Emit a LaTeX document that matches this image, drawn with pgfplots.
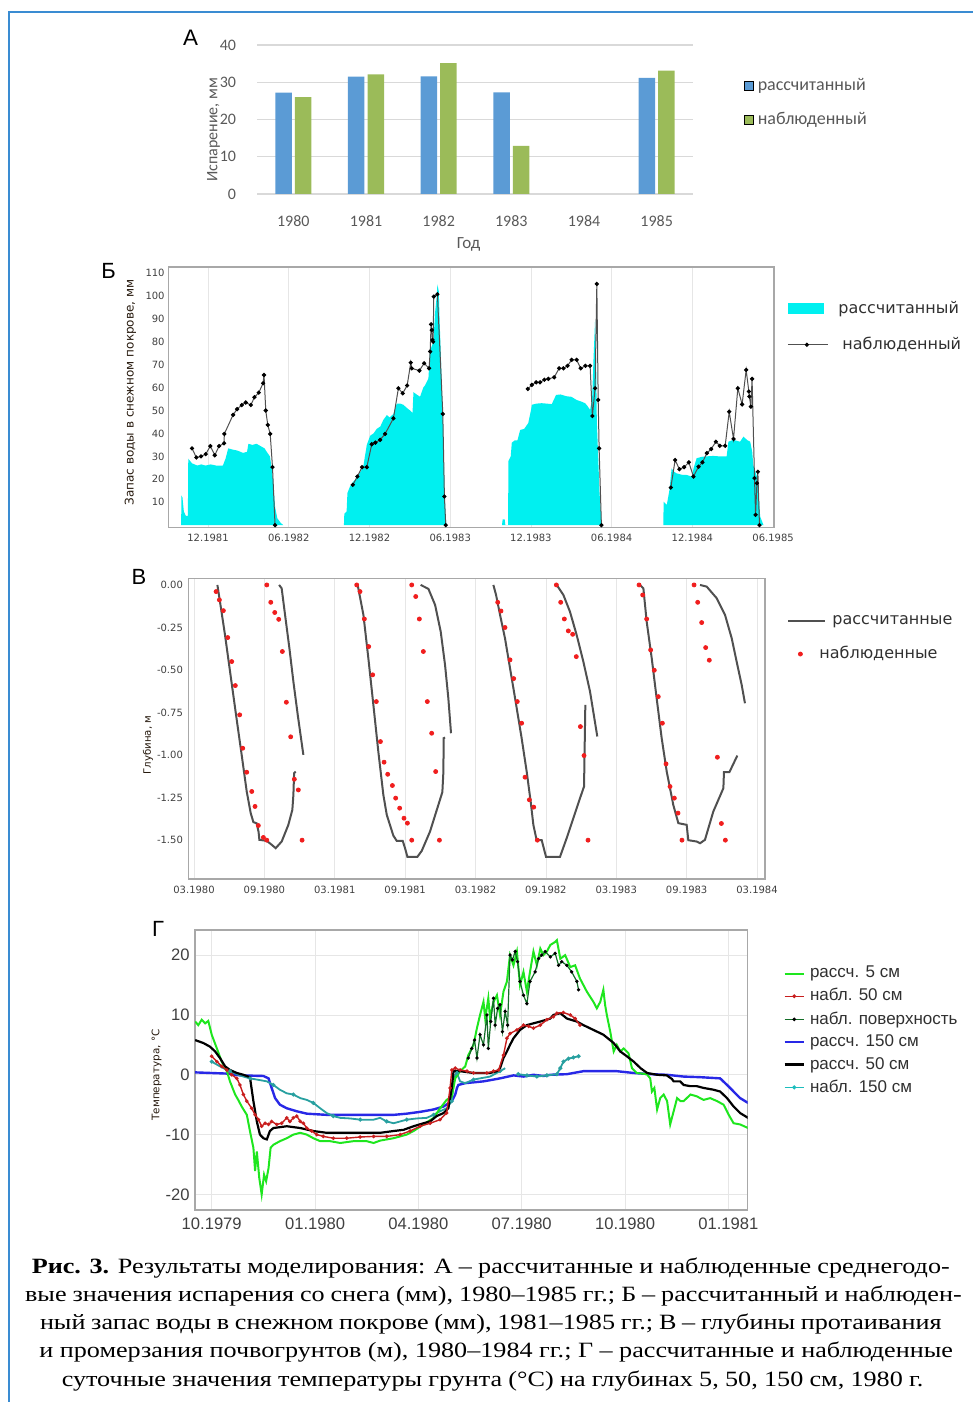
\documentclass[border=0pt]{standalone}
\usepackage{fontspec}
\setmainfont{Liberation Serif}
\newfontfamily\calfont{Carlito}
\newfontfamily\dvfont{DejaVu Sans}
\newfontfamily\arfont{Liberation Sans}
\newfontfamily\capfont[FakeStretch=1.2]{Liberation Serif}
\usepackage{pgfplots}
\pgfplotsset{compat=1.18}
\definecolor{framec}{RGB}{58,140,210}
\definecolor{ablue}{HTML}{5B9BD5}
\definecolor{agreen}{HTML}{9BBB59}
\definecolor{agrid}{HTML}{D9D9D9}
\definecolor{atext}{HTML}{595959}
\definecolor{bcyan}{RGB}{0,240,240}
\definecolor{bgrid}{HTML}{E6E6E6}
\definecolor{bframe}{HTML}{A8A8A8}
\definecolor{btick}{HTML}{404040}
\definecolor{legtext}{HTML}{303030}
\definecolor{vline}{HTML}{505050}
\definecolor{vred}{RGB}{240,30,30}
\definecolor{ggreen}{RGB}{30,230,30}
\definecolor{gred}{RGB}{200,30,30}
\definecolor{gdk}{RGB}{20,110,40}
\definecolor{gblue}{RGB}{40,40,230}
\definecolor{gteal}{RGB}{40,160,160}
\pgfplotsset{
 sqlegA/.style={legend image code/.code={\draw[##1] (0pt,-2.25pt) rectangle (4.5pt,2.25pt);}},
 cyanleg/.style={legend image code/.code={\fill[bcyan] (0pt,-2.75pt) rectangle (18pt,2.75pt);}},
 obsleg/.style={legend image code/.code={\draw[mark repeat=2,mark phase=2,##1] plot coordinates {(0pt,0pt) (9.5pt,0pt) (20pt,0pt)};}},
 vlineleg/.style={legend image code/.code={\draw[##1] (0pt,0pt) -- (18.3pt,0pt);}},
 vdotleg/.style={legend image code/.code={\draw[##1] plot coordinates {(6.15pt,0pt)};}},
 gleg/.style={legend image code/.code={\draw[mark repeat=2,mark phase=2,##1] plot coordinates {(0pt,0pt) (4.75pt,0pt) (9.5pt,0pt)};}},
}
\begin{document}
\begin{tikzpicture}
\useasboundingbox (0,0) rectangle (486.5pt,701pt);
\draw[framec, line width=1pt] (4.25pt,0pt) -- (4.25pt,695pt) -- (486.5pt,695pt);

% ---------------- Panel A ----------------
\begin{axis}[
 at={(128.5pt,604pt)}, anchor=south west, scale only axis, width=218pt, height=74.5pt,
 xmin=-0.5, xmax=5.5, ymin=0, ymax=40,
 xtick={0,1,2,3,4,5}, xticklabels={1980,1981,1982,1983,1984,1985},
 ytick={0,10,20,30,40}, yticklabels={0,10,20,30,40},
 axis line style={draw=none}, major tick length=0pt,
 ymajorgrids, grid style={line width=0.6pt, color=agrid},
 ticklabel style={font=\calfont\fontsize{8}{9}\selectfont, text=atext},
 xticklabel style={anchor=base, yshift=-16.25pt},
 yticklabel style={anchor=east, inner sep=0pt, xshift=-10.25pt},
 legend cell align=left,
 legend style={at={(1.116,0.78)}, anchor=north west, draw=none, fill=none, inner sep=0pt,
   row sep=9.4pt, column sep=2pt, font=\calfont\fontsize{9}{10}\selectfont, text=atext,
   cells={anchor=west}, nodes={inner sep=0pt}},
]
\addplot[ybar, bar width=8.25pt, bar shift=-4.9pt, fill=ablue, draw=none, sqlegA]
  coordinates {(0,27.2) (1,31.5) (2,31.6) (3,27.3) (5,31.2)};
\addlegendentry{рассчитанный}
\addplot[ybar, bar width=8.25pt, bar shift=4.9pt, fill=agreen, draw=none, sqlegA]
  coordinates {(0,26) (1,32.1) (2,35.1) (3,12.9) (5,33.1)};
\addlegendentry{наблюденный}
\end{axis}
\node[font=\arfont\fontsize{11.2}{12}\selectfont, inner sep=0pt] at (95.3pt,682pt) {А};
\node[font=\calfont\fontsize{8.5}{9}\selectfont, text=atext, inner sep=0pt] at (234.25pt,578.65pt) {Год};
\node[font=\calfont\fontsize{8}{9}\selectfont, text=atext, inner sep=0pt, rotate=90] at (106.8pt,636pt) {Испарение, мм};

% ---------------- Panel B ----------------
\begin{axis}[
 at={(84.25pt,437.15pt)}, anchor=south west, scale only axis, width=302.75pt, height=130.35pt,
 xmin=8.06, xmax=53.07, ymin=-1.1, ymax=112.6,
 xtick={11,17,23,29,35,41,47,53},
 xticklabels={12.1981,06.1982,12.1982,06.1983,12.1983,06.1984,12.1984,06.1985},
 ytick={10,20,30,40,50,60,70,80,90,100,110},
 yticklabels={10,20,30,40,50,60,70,80,90,100,110},
 xmajorgrids, grid style={color=bgrid, line width=0.4pt},
 axis line style={color=bframe, line width=0.6pt}, major tick length=0pt,
 ticklabel style={font=\dvfont\fontsize{5}{6}\selectfont, text=btick},
 xticklabel style={anchor=base, yshift=-7.1pt},
 yticklabel style={anchor=east, inner sep=0pt, xshift=-1.75pt},
 legend cell align=left,
 legend style={at={(1.0215,0.8715)}, anchor=north west, draw=none, fill=none, inner sep=0pt,
   row sep=10.5pt, column sep=5pt, font=\dvfont\fontsize{8}{9.6}\selectfont, text=legtext,
   cells={anchor=west}, nodes={inner sep=0pt}},
]
\addplot[fill=bcyan, draw=none, cyanleg]
 coordinates {(9.0,0) (9.02,13) (9.1,12) (9.2,6) (9.35,4) (9.5,4) (9.53,29) (9.8,27) (10.2,26) (10.5,26.5)
 (10.8,26) (11.2,26.5) (11.6,26) (12.1,26) (12.3,29) (12.5,33.5) (12.8,33) (13.2,32.5) (13.6,31.5)
 (13.9,32) (14.0,35.5) (14.3,35) (14.6,35.5) (14.9,34.5) (15.2,33.5) (15.36,32) (15.6,30) (15.73,25)
 (15.85,18) (15.98,8) (16.15,3) (16.4,1) (16.6,0)} \closedcycle;
\addlegendentry{рассчитанный}
\addplot[fill=bcyan, draw=none, forget plot]
 coordinates {(21.1,0) (21.13,5) (21.3,6) (21.36,14) (21.56,17) (21.8,19) (22.1,21) (22.4,24) (22.55,26)
 (22.8,35) (23.05,39) (23.3,40) (23.54,42) (23.8,43) (24.04,46) (24.29,48) (24.5,47) (24.78,48.5)
 (25.03,53) (25.3,53) (25.52,52.5) (25.8,51) (26.02,50) (26.2,49) (26.27,58) (26.5,57) (26.76,56)
 (27.0,60) (27.13,61) (27.38,64) (27.5,76) (27.75,80) (27.88,93) (28.0,100) (28.05,105) (28.15,102)
 (28.22,88) (28.3,75) (28.4,55) (28.5,35) (28.58,15) (28.65,5) (28.72,0)} \closedcycle;
\addplot[fill=bcyan, draw=none, forget plot]
 coordinates {(32.85,0) (32.9,2.5) (33.05,2.5) (33.1,0) (33.3,0) (33.33,28) (33.5,30) (33.58,36) (33.8,37)
 (34.0,37) (34.2,41.5) (34.5,42) (34.8,44.5) (35.0,50) (35.07,52.5) (35.4,53) (35.8,53.2) (36.2,53)
 (36.55,52.8) (36.87,56.8) (37.2,57) (37.66,56.2) (38.0,56) (38.4,54.6) (38.7,54) (39.03,53.2) (39.2,52)
 (39.4,50.3) (39.55,55) (39.65,72) (39.77,89.5) (39.85,70) (39.9,45) (40.0,30) (40.1,14) (40.27,0)} \closedcycle;
\addplot[fill=bcyan, draw=none, forget plot]
 coordinates {(44.85,0) (44.86,10.3) (45.1,8.8) (45.3,15.4) (45.46,24.8) (45.6,23.5) (45.83,22.6) (46.2,22)
 (46.57,21.9) (46.95,21.2) (47.1,25) (47.32,29.2) (47.7,29.8) (48.06,30) (48.56,30.2) (49.0,30) (49.55,30)
 (49.68,36.4) (50.05,37.2) (50.55,36.4) (50.8,38.6) (51.1,37) (51.3,36.4) (51.45,32) (51.53,26.2)
 (51.8,21.2) (51.95,12) (52.04,3.8) (52.29,0)} \closedcycle;
\addplot[color=vline, line width=0.5pt, mark=*, mark size=0.8pt, mark options={fill=black, draw=black}, obsleg]
 coordinates {(9.81,33.5) (10.13,29.5) (10.48,30) (10.83,31) (11.17,34.5) (11.5,30.5) (11.82,34.5)
 (12.19,35.7) (12.21,39.8) (12.86,48.1) (13.16,50.6) (13.51,52.4) (13.8,53.5) (14.18,52.4) (14.45,55.8)
 (14.77,57.8) (15.09,61.9) (15.16,65.5) (15.29,50) (15.44,43.7) (15.62,39.8) (15.79,25.3) (15.98,0)};
\addlegendentry{\hspace*{2pt}наблюденный}
\addplot[color=vline, line width=0.5pt, mark=*, mark size=0.8pt, mark options={fill=black, draw=black}, forget plot]
 coordinates {(21.76,17.6) (22.1,21.2) (22.45,25.3) (22.8,25.3) (23.17,35.3) (23.44,36) (23.79,37.2)
 (24.16,39.8) (24.78,46.6) (25.15,59.7) (25.47,57.5) (25.8,60.9) (26.07,70.9) (26.14,68.4) (26.71,67.4)
 (27.06,70.6) (27.43,68.4) (27.51,75.7) (27.58,87.6) (27.63,85.1) (27.68,80.8) (27.73,80) (27.78,99.7)
 (28.05,100.7) (28.45,48.5) (28.57,12.5) (28.67,0)};
\addplot[color=vline, line width=0.5pt, mark=*, mark size=0.8pt, mark options={fill=black, draw=black}, forget plot]
 coordinates {(34.77,59.4) (35.07,61.2) (35.39,62.3) (35.68,62.3) (36.0,63.4) (36.3,63.8) (36.73,64.5)
 (37.1,68.4) (37.42,68.4) (37.72,69.5) (38.03,72.1) (38.4,72.1) (38.7,68.4) (39.05,69.5) (39.4,69.5)
 (39.57,47.6) (39.77,59.7) (39.9,105.2) (40.0,54.6) (40.07,33.5) (40.24,0)};
\addplot[color=vline, line width=0.5pt, mark=*, mark size=0.8pt, mark options={fill=black, draw=black}, forget plot]
 coordinates {(45.4,16.4) (45.72,28.4) (46.04,24.4) (46.39,25.3) (46.74,27.4) (47.08,21.2) (47.46,25.5)
 (47.75,27.4) (48.08,31.4) (48.4,33.2) (48.75,36.4) (49.04,34.6) (49.44,34.6) (49.74,49.5) (50.06,37.6)
 (50.38,59.7) (50.7,52.7) (51.0,67.7) (51.2,58.3) (51.24,56.1) (51.35,51.7) (51.44,63.8) (51.62,20.5)
 (51.7,4.5) (51.8,18.3) (51.87,23.3) (51.99,0)};
\end{axis}
\node[font=\arfont\fontsize{11}{12}\selectfont, inner sep=0pt] at (54.25pt,565.75pt) {Б};
\node[font=\dvfont\fontsize{6}{7}\selectfont, text=black!80!brown, inner sep=0pt, rotate=90] at (65.25pt,504.75pt) {Запас воды в снежном покрове, мм};

% ---------------- Panel V ----------------
\begin{axis}[
 at={(94.15pt,261.5pt)}, anchor=south west, scale only axis, width=288.35pt, height=150.35pt,
 xmin=1.51, xmax=50.68, ymin=-1.727, ymax=0.039,
 xtick={2,8,14,20,26,32,38,44,50},
 xticklabels={03.1980,09.1980,03.1981,09.1981,03.1982,09.1982,03.1983,09.1983,03.1984},
 ytick={-1.5,-1.25,-1,-0.75,-0.5,-0.25,0},
 yticklabels={-1.50,-1.25,-1.00,-0.75,-0.50,-0.25,0.00},
 xmajorgrids, grid style={color=bgrid, line width=0.4pt},
 axis line style={color=bframe, line width=0.6pt}, major tick length=0pt,
 ticklabel style={font=\dvfont\fontsize{5}{6}\selectfont, text=btick},
 xticklabel style={anchor=base, yshift=-7.3pt},
 yticklabel style={anchor=east, inner sep=0pt, xshift=-2.5pt},
 legend cell align=left,
 legend style={at={(1.0376,0.879)}, anchor=north west, draw=none, fill=none, inner sep=0pt,
   row sep=9.65pt, column sep=3.35pt, font=\dvfont\fontsize{8}{9.6}\selectfont, text=legtext,
   cells={anchor=west}, nodes={inner sep=0pt}},
 cline/.style={color=vline, line width=1pt, forget plot},
 obs/.style={only marks, mark=*, mark size=1pt, color=vred, forget plot},
]
\addlegendimage{color=vline, line width=1pt, vlineleg}
\addlegendentry{рассчитанные}
\addlegendimage{only marks, mark=*, mark size=1pt, color=vred, vdotleg}
\addlegendentry{\hspace*{-6.5pt}наблюденные}
\addplot[cline] coordinates {(3.99,0) (4.21,-0.098) (4.64,-0.294) (5.07,-0.509) (5.58,-0.763) (6.06,-0.998)
 (6.49,-1.213) (6.83,-1.34) (7.06,-1.393) (7.34,-1.40) (7.5,-1.45) (7.57,-1.497) (8.2,-1.503) (8.62,-1.526)
 (8.96,-1.546) (9.47,-1.507) (10.04,-1.409) (10.38,-1.321) (10.47,-1.233) (10.53,-1.106) (10.67,-1.096)};
\addplot[cline] coordinates {(9.25,0) (9.47,-0.02) (9.76,-0.176) (10.13,-0.372) (10.47,-0.568) (10.84,-0.763) (11.32,-0.998)};
\addplot[cline] coordinates {(15.95,0) (16.44,-0.176) (16.86,-0.43) (17.29,-0.705) (17.71,-0.978) (18.14,-1.233)
 (18.43,-1.35) (18.99,-1.472) (19.28,-1.503) (19.79,-1.503) (19.99,-1.546) (20.19,-1.597) (21.04,-1.597)
 (21.41,-1.562) (22.12,-1.448) (23.17,-1.217) (23.26,-1.096) (23.28,-0.9) (23.4,-0.896)};
\addplot[cline] coordinates {(21.32,0) (21.98,-0.023) (22.55,-0.117) (23.03,-0.274) (23.4,-0.47) (23.68,-0.665) (23.91,-0.871)};
\addplot[cline] coordinates {(27.52,0) (27.75,-0.059) (28.09,-0.176) (28.51,-0.313) (28.94,-0.489) (29.37,-0.665)
 (29.93,-0.9) (30.36,-1.096) (30.7,-1.272) (30.93,-1.409) (31.21,-1.499) (31.64,-1.499) (32.01,-1.597)
 (33.2,-1.597) (33.77,-1.487) (34.34,-1.37) (34.91,-1.252) (35.25,-1.184) (35.36,-0.705)};
\addplot[cline] coordinates {(32.92,0) (33.49,-0.059) (34.05,-0.157) (34.62,-0.294) (35.19,-0.45) (35.76,-0.626) (36.38,-0.89)};
\addplot[cline] coordinates {(40.02,0) (40.31,-0.02) (40.59,-0.215) (41.02,-0.43) (41.44,-0.665) (41.87,-0.9)
 (42.3,-1.096) (42.86,-1.292) (43.29,-1.399) (44.0,-1.409) (44.14,-1.499) (44.85,-1.507) (45.14,-1.517)
 (45.56,-1.497) (46.27,-1.331) (47.13,-1.194) (47.18,-1.1) (47.64,-1.1) (48.32,-1.002)};
\addplot[cline] coordinates {(45.14,0) (45.71,-0.01) (46.56,-0.078) (47.27,-0.176) (47.84,-0.313) (48.26,-0.45) (48.69,-0.587) (48.97,-0.695)};
\addplot[obs] coordinates {(3.88,-0.039) (4.16,-0.088) (4.5,-0.151) (4.87,-0.309) (5.21,-0.45) (5.52,-0.591)
 (5.89,-0.763) (6.15,-0.959) (6.49,-1.1) (6.92,-1.213) (7.2,-1.301) (7.48,-1.413) (7.91,-1.483) (8.2,-1.499)
 (8.2,0) (8.54,-0.102) (8.88,-0.162) (9.22,-0.202) (9.53,-0.391) (9.87,-0.689) (10.24,-0.892) (10.55,-1.141)
 (10.89,-1.204) (11.21,-1.499)};
\addplot[obs] coordinates {(15.87,0) (16.15,-0.039) (16.52,-0.2) (16.89,-0.362) (17.23,-0.528) (17.54,-0.685)
 (17.89,-0.92) (18.2,-1.041) (18.51,-1.112) (18.91,-1.178) (19.19,-1.252) (19.53,-1.311) (19.9,-1.37)
 (20.19,-1.399) (20.56,-1.499) (20.56,0) (20.9,-0.068) (21.21,-0.2) (21.55,-0.391) (21.89,-0.685)
 (22.26,-0.871) (22.6,-1.096) (22.92,-1.499)};
\addplot[obs] coordinates {(27.89,-0.102) (28.17,-0.153) (28.51,-0.25) (28.94,-0.44) (29.25,-0.55) (29.56,-0.685)
 (29.93,-0.812) (30.22,-1.129) (30.59,-1.262) (30.96,-1.305) (31.27,-1.499) (32.89,0) (33.26,-0.102)
 (33.57,-0.2) (33.91,-0.27) (34.28,-0.29) (34.59,-0.421) (34.94,-0.832) (35.25,-1.002) (35.59,-1.499)};
\addplot[obs] coordinates {(39.94,0) (40.25,-0.059) (40.59,-0.2) (40.93,-0.382) (41.24,-0.501) (41.58,-0.656)
 (41.93,-0.812) (42.24,-1.051) (42.58,-1.184) (42.95,-1.252) (43.26,-1.34) (43.6,-1.499) (44.63,0)
 (44.94,-0.102) (45.28,-0.221) (45.62,-0.368) (45.93,-0.442) (46.62,-1.012) (46.96,-1.401) (47.3,-1.499)};
\end{axis}
\node[font=\arfont\fontsize{11}{12}\selectfont, inner sep=0pt] at (69.5pt,412.75pt) {В};
\node[font=\dvfont\fontsize{5.1}{6}\selectfont, text=black!80!brown, inner sep=0pt, rotate=90] at (74pt,328.5pt) {Глубина, м};

% ---------------- Panel G ----------------
\begin{axis}[
 at={(97.5pt,96pt)}, anchor=south west, scale only axis, width=276.35pt, height=140pt,
 xmin=-0.485, xmax=15.56, ymin=-22.6, ymax=24.2,
 xtick={0,3,6,9,12,15},
 xticklabels={10.1979,01.1980,04.1980,07.1980,10.1980,01.1981},
 ytick={-20,-10,0,10,20}, yticklabels={-20,-10,0,10,20},
 grid=major, grid style={color=bgrid, line width=0.4pt},
 axis line style={color=bframe, line width=0.6pt}, major tick length=0pt,
 ticklabel style={font=\arfont\fontsize{8.3}{9}\selectfont, text=btick},
 xticklabel style={anchor=base, yshift=-9.6pt},
 yticklabel style={anchor=east, inner sep=0pt, xshift=-2.5pt},
 legend cell align=left,
 legend style={at={(1.0639,0.872)}, anchor=north west, draw=none, fill=none, inner sep=0pt,
   row sep=3.8pt, column sep=2.5pt, font=\arfont\fontsize{8.5}{9.6}\selectfont, text=legtext,
   cells={anchor=west}, nodes={inner sep=0pt}},
 gleg,
]
\addlegendimage{color=ggreen, line width=1pt}
\addlegendentry{рассч. 5 см}
\addlegendimage{color=gred, line width=0.7pt, mark=*, mark size=0.6pt}
\addlegendentry{набл. 50 см}
\addlegendimage{color=gdk, line width=0.6pt, mark=*, mark size=0.6pt, mark options={color=black}}
\addlegendentry{набл. поверхность}
\addlegendimage{color=gblue, line width=1.3pt}
\addlegendentry{рассч. 150 см}
\addlegendimage{color=black, line width=1.1pt}
\addlegendentry{рассч. 50 см}
\addlegendimage{color=gteal!70!cyan, line width=0.7pt, mark=*, mark size=0.6pt}
\addlegendentry{набл. 150 см}
\addplot[color=gblue, line width=1.2pt, forget plot] coordinates {(-0.48,0.4) (0.44,0.2) (0.82,-0.1) (1.5,-0.2)
 (1.65,-0.6) (1.74,-2.2) (1.84,-3.9) (1.98,-5) (2.18,-5.6) (2.47,-6.1) (2.76,-6.5) (3.34,-6.7) (4.7,-6.7)
 (5.28,-6.7) (5.66,-6.5) (6.05,-6.2) (6.44,-5.8) (6.73,-5.3) (6.97,-4.4) (7.07,-3.3) (7.12,-2.2) (7.16,-1.7)
 (7.36,-1.4) (7.89,-1.1) (8.18,-0.8) (8.37,-0.6) (8.76,-0.1) (9.05,-0.3) (9.34,0) (9.63,-0.2) (9.83,0)
 (10.31,0.1) (10.79,0.6) (11.76,0.6) (12.25,0.3) (12.73,0.1) (13.21,0) (13.7,-0.3) (14.18,-0.4) (14.76,-0.6)
 (14.96,-1.7) (15.15,-2.8) (15.34,-3.9) (15.57,-4.7)};
\addplot[color=gteal, line width=0.9pt, mark=*, mark size=0.5pt, mark repeat=3, forget plot] coordinates {(0,2.2) (0.15,1.7)
 (0.34,1.1) (0.53,0.6) (0.73,0.1) (0.92,-0.3) (1.11,-0.6) (1.31,-0.8) (1.6,-1.1) (1.79,-1.7) (1.98,-2.5)
 (2.18,-3.1) (2.37,-3.3) (2.57,-3.9) (2.76,-4.2) (2.95,-4.7) (3.15,-5.6) (3.34,-6.4) (3.53,-6.9) (3.73,-7.2)
 (4.02,-7.3) (4.31,-7.5) (4.7,-7.5) (4.89,-7.2) (5.08,-7.8) (5.28,-8.1) (5.47,-7.8) (5.66,-7.5) (5.95,-7.3)
 (6.24,-7.2) (6.44,-6.7) (6.63,-6.1) (6.82,-5.6) (6.97,-4.4) (7.02,-1.7) (7.07,0) (7.12,0.3) (7.21,-1.1)
 (7.36,-1.4) (7.6,-0.8) (7.79,-0.6) (8.08,-0.3) (8.37,0.6) (8.52,1.1)};
\addplot[color=gteal, line width=0.9pt, mark=*, mark size=0.5pt, forget plot] coordinates {(8.9,0.1) (9.15,-0.1)
 (9.44,-0.3) (9.73,-0.1) (10.02,0.1) (10.12,1.1) (10.21,2.2) (10.36,2.7) (10.5,2.9) (10.65,3.1)};
\addplot[color=ggreen, line width=1pt, forget plot] coordinates {(-0.48,8.9) (-0.39,8.3) (-0.29,9.2) (-0.19,8.6)
 (-0.1,9.0) (0,6.7) (0.15,4.4) (0.29,2.2) (0.44,0.6) (0.53,-1.1) (0.68,-3.3) (0.77,-4.2) (0.87,-5.3)
 (1.02,-6.7) (1.11,-9.4) (1.21,-12.2) (1.26,-16.1) (1.31,-12.8) (1.38,-17.2) (1.45,-20) (1.52,-16.7)
 (1.58,-17.8) (1.65,-15.6) (1.71,-12.2) (1.79,-11.7) (1.98,-11.1) (2.18,-10.6) (2.37,-10) (2.57,-9.7)
 (2.76,-10) (2.95,-10.6) (3.15,-11.1) (3.44,-11.1) (3.73,-11.4) (4.11,-11.1) (4.5,-11.1) (4.7,-11.4)
 (4.89,-11) (5.28,-10.6) (5.66,-10) (5.86,-9.4) (6.15,-8.3) (6.44,-7.2) (6.63,-5.6) (6.82,-4.2) (6.97,-3.6)
 (7.07,-0.6) (7.21,0.6) (7.36,1.4) (7.45,3.3) (7.6,5) (7.7,7.8) (7.79,10) (7.89,12.2) (7.94,9.4) (8.03,12.8)
 (8.08,9.4) (8.18,12.2) (8.28,13.3) (8.37,10) (8.47,13.9) (8.57,15.6) (8.66,20) (8.76,18.3) (8.86,20.6)
 (8.95,15) (9.05,17.2) (9.15,13.9) (9.24,17.2) (9.34,20.6) (9.44,18.3) (9.54,21.1) (9.63,20) (9.73,20.6)
 (9.83,21.7) (9.97,22.2) (10.02,22.5) (10.12,19.4) (10.26,20) (10.41,18) (10.55,18.3) (10.69,16.1)
 (10.79,15) (10.89,13.9) (11.08,12.2) (11.18,11.1) (11.28,12.2) (11.37,14.2) (11.42,11.7) (11.47,10)
 (11.57,7.2) (11.67,3.9) (11.76,5) (11.86,3.9) (11.96,4.4) (12.1,3.6) (12.2,1.1) (12.34,0.3) (12.63,0.1)
 (12.73,-0.6) (12.78,-2.8) (12.85,-2.2) (12.93,-5.8) (13.02,-3.9) (13.12,-3.3) (13.22,-4.4) (13.31,-8.3)
 (13.41,-6.1) (13.51,-3.9) (13.61,-4.4) (13.7,-4.4) (13.9,-3.3) (14.08,-3.6) (14.28,-4.2) (14.47,-3.9)
 (14.67,-4.4) (14.86,-5) (15.01,-6.7) (15.15,-8.1) (15.34,-8.3) (15.57,-8.9)};
\addplot[color=black, line width=1.1pt, forget plot] coordinates {(-0.48,5.8) (-0.24,5.3) (-0.05,4.7) (0.1,3.9)
 (0.24,2.8) (0.39,1.4) (0.53,0.8) (0.73,0.3) (0.92,0) (1.11,-0.4) (1.21,-4.4) (1.31,-7.8) (1.4,-10) (1.5,-10.6)
 (1.6,-10.8) (1.69,-9.4) (1.79,-8.9) (2.18,-8.6) (2.57,-8.9) (2.95,-9.4) (3.34,-9.7) (4.11,-9.7) (4.89,-9.7)
 (5.28,-9.4) (5.57,-9.2) (5.86,-8.6) (6.15,-8.1) (6.34,-7.8) (6.53,-6.9) (6.73,-6.4) (6.87,-5.6) (6.97,-2.2)
 (7.02,0.6) (7.21,0.6) (7.6,0.3) (8.08,0.3) (8.28,0.6) (8.37,1.1) (8.47,2.8) (8.57,3.9) (8.66,5) (8.76,6.1)
 (8.95,7.5) (9.15,8.3) (9.34,8.6) (9.54,8.9) (9.83,9.4) (9.92,10) (10.12,10.3) (10.31,9.4) (10.6,8.9)
 (10.79,8.3) (11.08,7.5) (11.37,6.7) (11.67,5.3) (11.86,3.9) (12.05,3.1) (12.25,2.2) (12.45,1.1) (12.64,0.3)
 (12.93,0) (13.21,-0.1) (13.36,-0.7) (13.41,-1.1) (13.6,-1.1) (13.7,-1.7) (13.89,-1.9) (14.08,-1.9)
 (14.28,-2.2) (14.57,-2.5) (14.76,-2.8) (14.96,-3.9) (15.15,-5.3) (15.34,-6.4) (15.57,-7.2)};
\addplot[color=gred, line width=0.7pt, mark=*, mark size=0.5pt, forget plot] coordinates {(0,3.1) (0.15,2.2)
 (0.29,1.4) (0.44,0.8) (0.58,0) (0.73,-0.6) (0.82,-1.7) (0.92,-3.3) (1.02,-4.4) (1.16,-5.6) (1.26,-6.7)
 (1.36,-7.5) (1.45,-8.6) (1.55,-8.1) (1.65,-8.3) (1.74,-7.8) (1.89,-8.3) (2.03,-8.1) (2.18,-7.2) (2.27,-7.8)
 (2.37,-7.2) (2.47,-6.9) (2.57,-7.8) (2.66,-8.1) (2.76,-8.9) (2.9,-9.4) (3.05,-10) (3.24,-10.3) (3.53,-10.6)
 (3.92,-10.6) (4.31,-10.4) (4.7,-10.3) (5.08,-10.3) (5.47,-10) (5.76,-9.4) (6.05,-8.6) (6.34,-8.1)
 (6.63,-7.5) (6.82,-6.4) (6.92,-2.2) (6.97,0.8) (7.07,1.1) (7.21,0.8) (7.41,0.6) (7.6,0.3) (7.99,0.3)
 (8.18,0.6) (8.33,0.8) (8.47,3.3) (8.57,6.1) (8.66,6.9) (8.86,7.5) (9.05,8.3) (9.2,8.1) (9.34,7.8) (9.54,8.3)
 (9.73,9.2) (9.92,9.7) (10.02,10.3) (10.21,10.4) (10.41,10) (10.55,9.4) (10.69,8.3)};
\addplot[color=gdk, line width=0.6pt, mark=*, mark size=0.5pt, mark options={color=black}, forget plot] coordinates {
 (7.45,2.8) (7.55,4.4) (7.63,5.8) (7.7,2.8) (7.79,6.7) (7.89,5) (7.99,10) (8.03,4.4) (8.1,8.9) (8.18,12.8)
 (8.23,8.3) (8.3,11.1) (8.37,11.7) (8.44,7.2) (8.52,10.6) (8.59,8.3) (8.66,20) (8.73,19.2) (8.81,20.6)
 (8.88,18.9) (8.95,15.6) (9.05,13.3) (9.15,11.9) (9.24,15.6) (9.39,17.2) (9.49,19.4) (9.58,20) (9.68,20.6)
 (9.83,19.7) (9.97,20.3) (10.07,18.3) (10.16,18.9) (10.31,18.3) (10.45,17.2) (10.6,15.6) (10.65,14.2)};
\end{axis}
\node[font=\arfont\fontsize{11}{12}\selectfont, inner sep=0pt] at (79pt,236.75pt) {Г};
\node[font=\dvfont\fontsize{5.2}{6}\selectfont, text=black!80!brown, inner sep=0pt, rotate=90] at (78.35pt,163.5pt) {Температура, °С};

% ---------------- Caption ----------------
\begin{scope}[every node/.style={anchor=base, inner sep=0pt, font=\capfont\fontsize{10.9}{12}\selectfont}]
\node at (245.4pt,64pt) {\makebox[459pt][s]{\textbf{Рис. 3.} Результаты моделирования: А – рассчитанные и наблюденные среднегодо-}};
\node at (246.7pt,50pt) {\makebox[468.3pt][s]{вые значения испарения со снега (мм), 1980–1985 гг.; Б – рассчитанный и наблюден-}};
\node at (245.4pt,36pt) {\makebox[450.8pt][s]{ный запас воды в снежном покрове (мм), 1981–1985 гг.; В – глубины протаивания}};
\node at (248.1pt,22pt) {\makebox[456.8pt][s]{и промерзания почвогрунтов (м), 1980–1984 гг.; Г – рассчитанные и наблюденные}};
\node at (246.3pt,8pt) {\makebox[430.8pt][s]{суточные значения температуры грунта (°С) на глубинах 5, 50, 150 см, 1980 г.}};
\end{scope}
\end{tikzpicture}
\end{document}
